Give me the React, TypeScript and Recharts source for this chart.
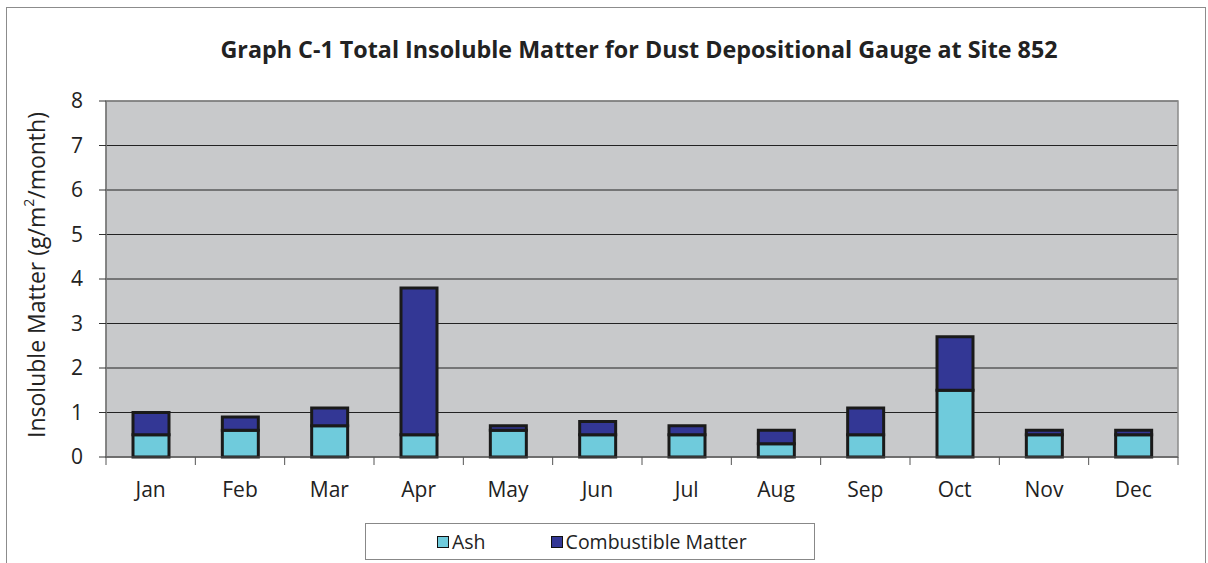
import { BarChart, Bar, XAxis, YAxis, CartesianGrid, Legend, ReferenceArea } from "recharts";

const months = ["Jan", "Feb", "Mar", "Apr", "May", "Jun", "Jul", "Aug", "Sep", "Oct", "Nov", "Dec"];
const ash = [0.5, 0.6, 0.7, 0.5, 0.6, 0.5, 0.5, 0.3, 0.5, 1.5, 0.5, 0.5];
const combustible = [0.5, 0.3, 0.4, 3.3, 0.1, 0.3, 0.2, 0.3, 0.6, 1.2, 0.1, 0.1];
const yTicks = [0, 1, 2, 3, 4, 5, 6, 7, 8];
const edgeTicks = [0, 1, 2, 3, 4, 5, 6, 7, 8, 9, 10, 11, 12];

const data = months.map((m, i) => ({ month: m, idx: i + 0.5, ash: ash[i], combustible: combustible[i] }));

const FONT = "'Open Sans', 'Noto Sans', sans-serif";
const ASH = "#6fcbdc";
const COMB = "#333795";

function YLabel({ viewBox }: any) {
  const cx = viewBox.x + 36;
  const cy = viewBox.y + viewBox.height / 2 - 4;
  return (
    <text x={cx} y={cy} transform={`rotate(-90 ${cx} ${cy})`} textAnchor="middle" fontSize={23} fill="#222" fontFamily={FONT} dominantBaseline="central">
      Insoluble Matter (g/m
      <tspan fontSize={14} dy={-8}>2</tspan>
      <tspan dy={8}>/month)</tspan>
    </text>
  );
}

function LegendBox() {
  const item = (color: string, label: string, ml: number) => (
    <span style={{ display: "inline-flex", alignItems: "center", marginLeft: ml }}>
      <span style={{ width: 10, height: 10, background: color, border: "1.5px solid #111", marginRight: 3 }} />
      <span>{label}</span>
    </span>
  );
  return (
    <div style={{ width: 450, height: 37, boxSizing: "border-box", border: "1px solid #888", background: "#fff", display: "flex", alignItems: "center", fontFamily: FONT, fontSize: 19.5, color: "#222" }}>
      {item(ASH, "Ash", 71)}
      {item(COMB, "Combustible Matter", 65)}
    </div>
  );
}

export default function App() {
  return (
    <div style={{ position: "absolute", left: 0, top: 0, width: 1208, height: 563, overflow: "hidden", background: "#fff" }}>
      <div style={{ position: "absolute", left: 6, top: 7, width: 1198, height: 600, border: "1.5px solid #8c8c8c" }} />
      <div style={{ position: "absolute", left: 0, top: 33, width: 1278, textAlign: "center", fontFamily: FONT, fontWeight: 700, fontSize: 23.3, color: "#222" }}>
        Graph C-1 Total Insoluble Matter for Dust Depositional Gauge at Site 852
      </div>
      <div style={{ position: "absolute", left: 0, top: 0 }}>
        <BarChart width={1208} height={563} data={data} margin={{ top: 101, right: 30, left: 0, bottom: 0 }} barSize={36}>
          <CartesianGrid xAxisId={1} fill="#c8c9cb" stroke="#222" vertical={false} horizontalValues={yTicks} />
          <XAxis xAxisId={0} dataKey="idx" type="number" domain={[0, 12]} ticks={edgeTicks} height={8} tickSize={8} tick={{ fontSize: 0 }} tickFormatter={() => ""} axisLine={{ stroke: "#555" }} tickLine={{ stroke: "#555" }} />
          <XAxis xAxisId={1} dataKey="month" height={98} tickLine={false} axisLine={false} tickSize={0} tickMargin={17} tick={{ fontSize: 21, fill: "#222", fontFamily: FONT }} />
          <YAxis domain={[0, 8]} ticks={yTicks} width={106} tickSize={7} tickMargin={16} axisLine={{ stroke: "#666" }} tickLine={{ stroke: "#333" }} tick={{ fontSize: 21, fill: "#222", fontFamily: FONT }} label={<YLabel />} />
          <ReferenceArea xAxisId={1} y1={0} y2={8} fill="none" stroke="#8a8a8a" strokeWidth={1.5} ifOverflow="visible" />
          <Bar xAxisId={1} dataKey="ash" name="Ash" stackId="a" fill={ASH} stroke="#1a1a1a" strokeWidth={3} isAnimationActive={false} />
          <Bar xAxisId={1} dataKey="combustible" name="Combustible Matter" stackId="a" fill={COMB} stroke="#1a1a1a" strokeWidth={3} isAnimationActive={false} />
          <Legend layout="vertical" align="center" verticalAlign="middle" content={<LegendBox />} wrapperStyle={{ left: 365, top: 523, width: 450 }} />
        </BarChart>
      </div>
    </div>
  );
}
